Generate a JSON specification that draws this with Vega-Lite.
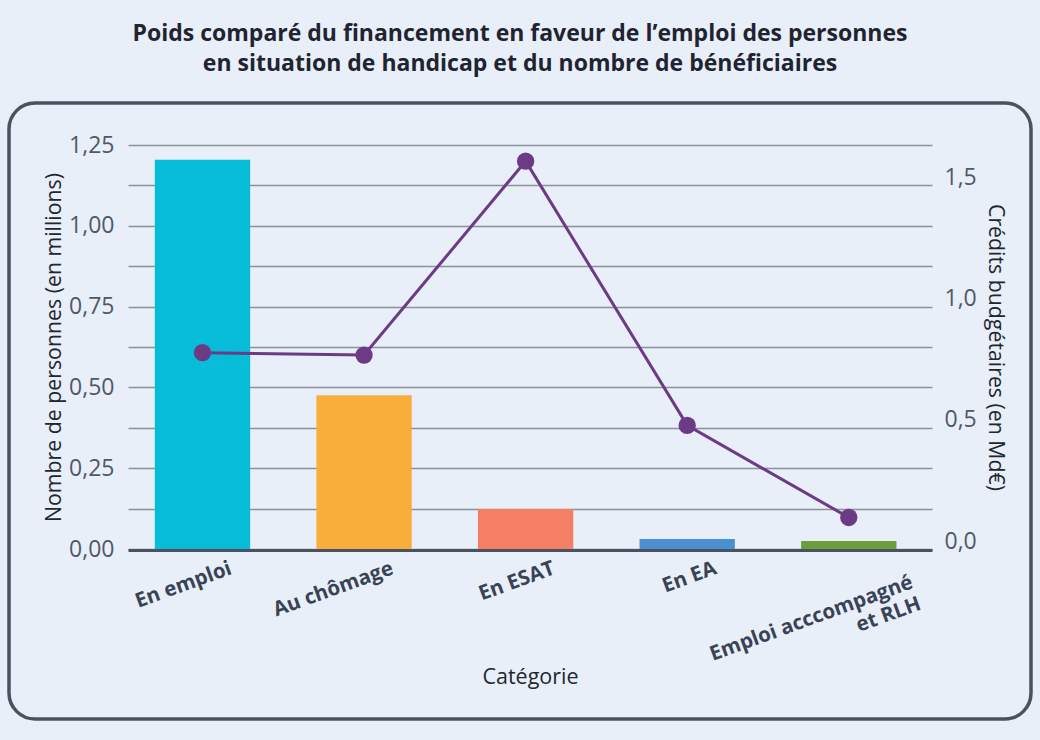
{
  "$schema": "https://vega.github.io/schema/vega-lite/v6.json",
  "width": 1022,
  "height": 616,
  "autosize": {"type": "none"},
  "padding": {"left": 9, "top": 103, "right": 9, "bottom": 21},
  "background": "#e8eff8",
  "config": {
    "view": {"stroke": "#4a5262", "strokeWidth": 3.5, "cornerRadius": 26, "fill": "#e8eff8"},
    "font": "Open Sans",
    "locale": {"number": {"decimal": ",", "thousands": " ", "grouping": [3], "currency": ["", " €"]}}
  },
  "title": {
    "text": ["Poids comparé du financement en faveur de l’emploi des personnes", "en situation de handicap et du nombre de bénéficiaires"],
    "font": "Open Sans",
    "fontSize": 23,
    "fontWeight": "bold",
    "color": "#1f2430",
    "anchor": "middle",
    "lineHeight": 30,
    "offset": 27
  },
  "data": {
    "values": [
      {"categorie": "En emploi", "personnes": 1.204, "credits": 0.81},
      {"categorie": "Au chômage", "personnes": 0.476, "credits": 0.80},
      {"categorie": "En ESAT", "personnes": 0.124, "credits": 1.60},
      {"categorie": "En EA", "personnes": 0.031, "credits": 0.51},
      {"categorie": "Emploi acccompagné et RLH", "personnes": 0.025, "credits": 0.13}
    ]
  },
  "encoding": {
    "x": {
      "field": "categorie",
      "type": "nominal",
      "sort": null,
      "scale": {"range": [119, 923], "paddingInner": 0.41, "paddingOuter": 0.193, "align": 0.43},
      "axis": {
        "title": "Catégorie",
        "titleFont": "Open Sans",
        "titleFontSize": 21.5,
        "titleFontWeight": "normal",
        "titleColor": "#222630",
        "titlePadding": -20,
        "offset": -169,
        "domainColor": "#4a5262",
        "domainWidth": 3,
        "ticks": false,
        "grid": false,
        "labelAngle": -20,
        "labelAlign": "right",
        "labelBaseline": "top",
        "labelOffset": {"condition": {"test": "datum.value == 'Emploi acccompagné et RLH'", "value": 60}, "value": 25},
        "labelPadding": {"condition": {"test": "datum.value == 'Emploi acccompagné et RLH'", "value": 22}, "value": 8},
        "labelLimit": 0,
        "labelFont": "Open Sans",
        "labelFontSize": 20.5,
        "labelFontWeight": "bold",
        "labelColor": "#3a4255",
        "labelLineHeight": 23,
        "labelExpr": "datum.value == 'Emploi acccompagné et RLH' ? ['Emploi acccompagné', 'et RLH'] : datum.label"
      }
    }
  },
  "layer": [
    {
      "mark": {"type": "bar"},
      "encoding": {
        "y": {
          "field": "personnes",
          "type": "quantitative",
          "scale": {"domain": [0, 1.25], "range": [446, 42], "nice": false, "zero": true},
          "axis": {
            "title": "Nombre de personnes (en millions)",
            "titleFont": "Open Sans",
            "titleFontSize": 21.3,
            "titleFontWeight": "normal",
            "titleColor": "#222630",
            "titlePadding": 4,
            "offset": -119,
            "domain": false,
            "ticks": false,
            "values": [0, 0.125, 0.25, 0.375, 0.5, 0.625, 0.75, 0.875, 1, 1.125, 1.25],
            "labelExpr": "(round(datum.value * 1000) % 250 == 0) ? replace(format(datum.value, '.2f'), '.', ',') : ''",
            "labelFont": "Open Sans",
            "labelFontSize": 23,
            "labelColor": "#505868",
            "labelPadding": 14,
            "grid": true,
            "gridColor": "#8c9099",
            "gridWidth": 1.5
          }
        },
        "color": {
          "field": "categorie",
          "type": "nominal",
          "scale": {
            "domain": ["En emploi", "Au chômage", "En ESAT", "En EA", "Emploi acccompagné et RLH"],
            "range": ["#06bcd9", "#f9ad3b", "#f47f65", "#4a8fd0", "#6a9f3b"]
          },
          "legend": null
        }
      }
    },
    {
      "mark": {"type": "line", "color": "#6d3a85", "strokeWidth": 3},
      "encoding": {
        "y": {
          "field": "credits",
          "type": "quantitative",
          "scale": {"domain": [0, 1.6667], "range": [446, 42], "nice": false, "zero": true},
          "axis": {
            "orient": "right",
            "title": "Crédits budgétaires (en Md€)",
            "titleFont": "Open Sans",
            "titleFontSize": 21.3,
            "titleFontWeight": "normal",
            "titleColor": "#222630",
            "titlePadding": 8,
            "offset": -99,
            "domain": false,
            "ticks": false,
            "grid": false,
            "values": [0, 0.5, 1, 1.5],
            "labelExpr": "replace(format(datum.value, '.1f'), '.', ',')",
            "labelFont": "Open Sans",
            "labelFontSize": 23,
            "labelColor": "#505868",
            "labelPadding": 12,
            "labelBaseline": "alphabetic",
            "labelOffset": -1
          }
        }
      }
    },
    {
      "mark": {"type": "point", "filled": true, "opacity": 1, "color": "#6d3a85", "size": 300},
      "encoding": {
        "y": {"field": "credits", "type": "quantitative", "scale": {"domain": [0, 1.6667], "range": [446, 42], "nice": false, "zero": true}, "axis": null}
      }
    }
  ],
  "resolve": {"scale": {"y": "independent", "color": "independent"}}
}
